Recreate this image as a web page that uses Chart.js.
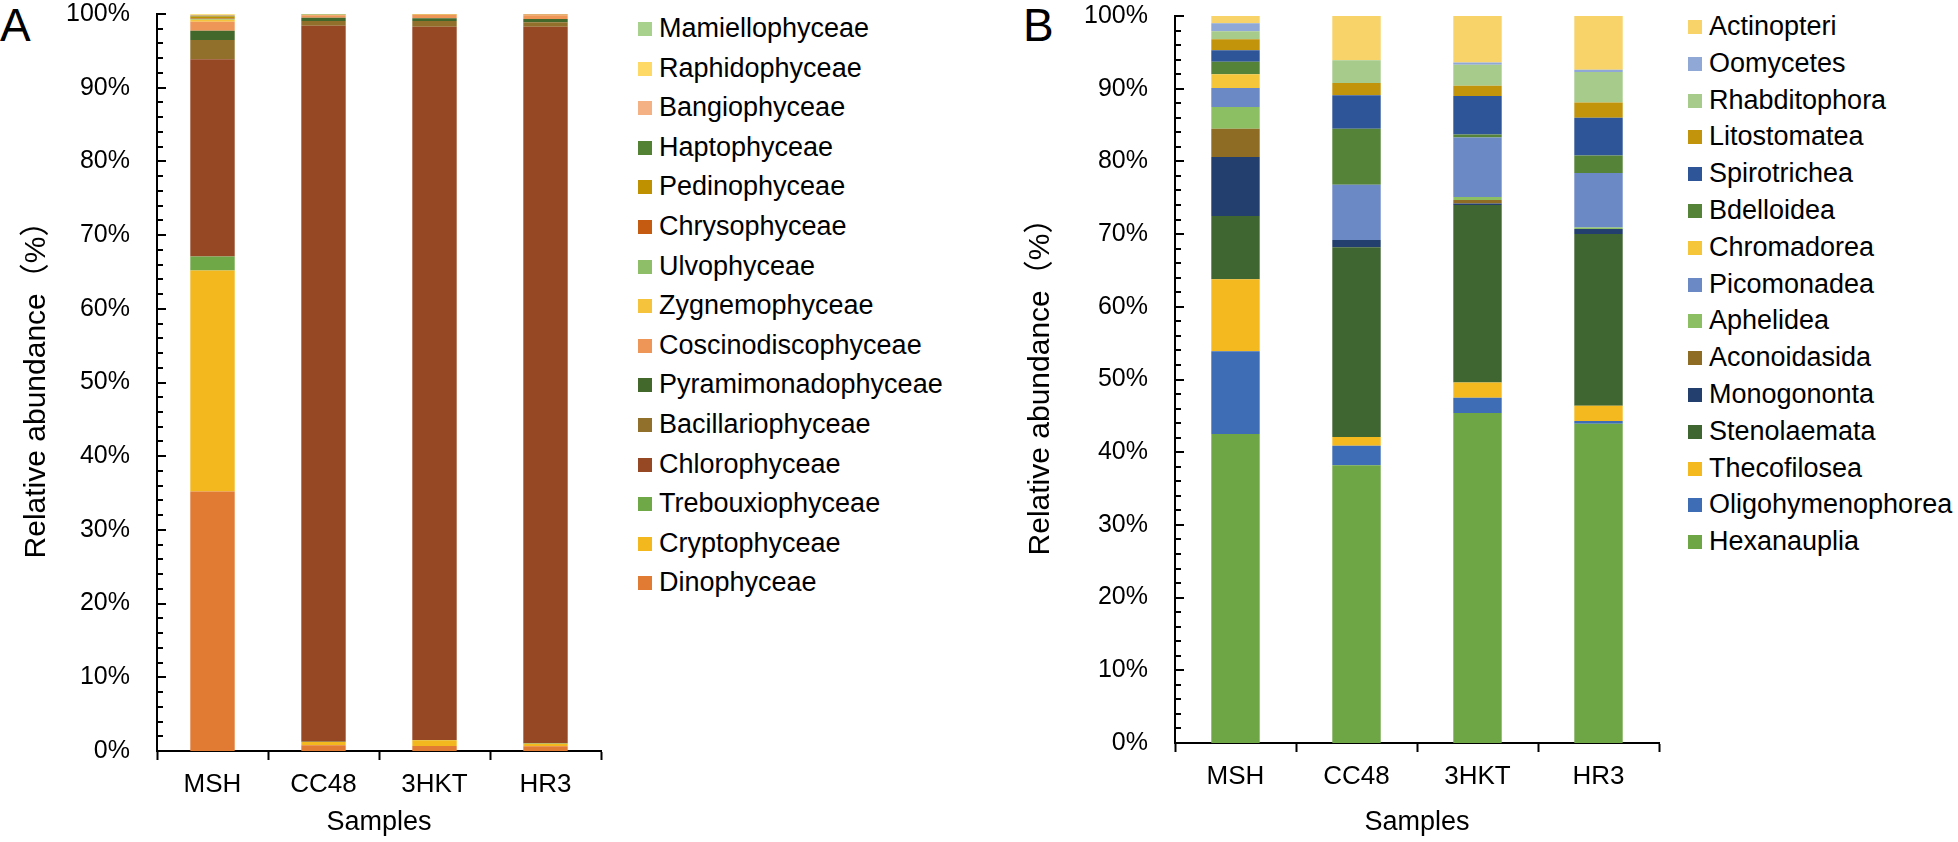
<!DOCTYPE html>
<html>
<head>
<meta charset="utf-8">
<script src="https://cdn.jsdelivr.net/npm/chart.js@4.4.1/dist/chart.umd.min.js"></script>
<style>
  body { margin: 0; background: #fff; width: 1958px; height: 842px; position: relative; overflow: hidden;
         font-family: "Liberation Sans", Arial, sans-serif; color: #000; }
  canvas { position: absolute; top: 0; }
  #chartA { left: 0; }
  #chartB { left: 980px; }
  .tag { position: absolute; top: 2px; font-size: 46px; line-height: 46px; }
  .legend { position: absolute; top: 0; font-size: 27px; }
  .legend .item { position: absolute; left: 0; height: 28px; line-height: 28px; white-space: nowrap; }
  .legend .sw { position: absolute; left: 0; top: 8px; width: 14px; height: 14px; }
  .legend .tx { position: absolute; top: 0; }
</style>
</head>
<body>
<div class="tag" style="left:0">A</div>
<div class="tag" style="left:1023px">B</div>
<canvas id="chartA" width="610" height="842"></canvas>
<canvas id="chartB" width="690" height="842"></canvas>
<div class="legend" id="legendA" style="left:638px"></div>
<div class="legend" id="legendB" style="left:1688px"></div>
<script>
// 樣本
const samples = ['MSH', 'CC48', '3HKT', 'HR3'];

// A: 藻類綱（由下往上堆疊）
const algaeClasses = ['Dinophyceae', 'Cryptophyceae', 'Trebouxiophyceae', 'Chlorophyceae', 'Bacillariophyceae',
  'Pyramimonadophyceae', 'Coscinodiscophyceae', 'Zygnemophyceae', 'Ulvophyceae', 'Chrysophyceae',
  'Pedinophyceae', 'Haptophyceae', 'Bangiophyceae', 'Raphidophyceae', 'Mamiellophyceae'];
const algaeColors = ['#e17a33', '#f3b81e', '#6fa846', '#964824', '#90702a',
  '#43682b', '#ee9558', '#f6c43c', '#8ebf68', '#c55a11',
  '#bf9000', '#548235', '#f4b183', '#ffd966', '#a9d18e'];
const algaeMSH  = [35.2, 30.0, 1.9, 26.75, 2.62, 1.26, 1.23, 0.25, 0.15, 0.1, 0.2, 0.1, 0.1, 0.1, 0.04];
const algaeCC48 = [0.77, 0.45, 0.05, 97.14, 0.63, 0.45, 0.35, 0.03, 0.02, 0.02, 0.02, 0.02, 0.02, 0.02, 0.01];
const algae3HKT = [0.68, 0.77, 0.05, 96.78, 0.77, 0.37, 0.45, 0.02, 0.02, 0.02, 0.02, 0.01, 0.02, 0.01, 0.01];
const algaeHR3  = [0.63, 0.37, 0.05, 97.23, 0.6, 0.45, 0.5, 0.03, 0.02, 0.02, 0.02, 0.02, 0.03, 0.02, 0.01];

// B: 動物/原生生物綱（由下往上堆疊）
const faunaClasses = ['Hexanauplia', 'Oligohymenophorea', 'Thecofilosea', 'Stenolaemata', 'Monogononta',
  'Aconoidasida', 'Aphelidea', 'Picomonadea', 'Chromadorea', 'Bdelloidea',
  'Spirotrichea', 'Litostomatea', 'Rhabditophora', 'Oomycetes', 'Actinopteri'];
const faunaColors = ['#6ea646', '#3e6db5', '#f4b91f', '#3f6630', '#223f6e',
  '#8f6c24', '#8cbf64', '#6a89c5', '#f6c63a', '#558337',
  '#2e5597', '#c2940c', '#a6cb8b', '#8fa8d6', '#f7d36a'];
const faunaMSH  = [42.5, 11.4, 9.9, 8.7, 8.1, 3.9, 3.0, 2.6, 1.9, 1.7, 1.6, 1.5, 1.1, 1.1, 1.0];
const faunaCC48 = [38.2, 2.7, 1.2, 26.1, 1.0, 0, 0, 7.6, 0, 7.7, 4.6, 1.7, 3.1, 0, 6.1];
const fauna3HKT = [45.4, 2.1, 2.1, 24.4, 0.2, 0.5, 0.4, 8.2, 0, 0.4, 5.3, 1.4, 2.9, 0.3, 6.4];
const faunaHR3  = [43.9, 0.4, 2.1, 23.6, 0.7, 0, 0.2, 7.5, 0, 2.4, 5.2, 2.1, 4.2, 0.3, 7.4];

Chart.defaults.font.family = "'Liberation Sans', Arial, 'Noto Sans CJK SC', sans-serif";
Chart.defaults.color = '#000';

// 內側刻度（主刻度 10%，次刻度 2%）
const innerTicks = {
  id: 'innerTicks',
  afterDraw(chart) {
    const ctx = chart.ctx, sc = chart.scales.y, x0 = chart.chartArea.left;
    ctx.save();
    ctx.strokeStyle = '#000';
    ctx.lineWidth = 2;
    for (let v = 0; v <= 100; v += 2) {
      const py = Math.round(sc.getPixelForValue(v));
      const len = v % 10 === 0 ? 9 : 6;
      ctx.beginPath();
      ctx.moveTo(x0, py);
      ctx.lineTo(x0 + len, py);
      ctx.stroke();
    }
    ctx.restore();
  }
};

function buildChart(id, classes, colors, rows, o) {
  const datasets = classes.map((name, i) => ({
    label: name,
    data: rows.map(r => r[i]),
    backgroundColor: colors[i],
    borderWidth: 0,
    barPercentage: 0.4,
    categoryPercentage: 1.0
  }));
  return new Chart(document.getElementById(id), {
    type: 'bar',
    data: { labels: samples, datasets },
    options: {
      responsive: false,
      animation: false,
      devicePixelRatio: 1,
      layout: { padding: { left: 0, right: o.padRight, top: o.padTop, bottom: 0 } },
      plugins: { legend: { display: false }, tooltip: { enabled: false } },
      scales: {
        x: {
          stacked: true,
          grid: { display: true, drawOnChartArea: false, drawTicks: true, tickLength: 9, tickWidth: 2, tickColor: '#000', offset: true },
          border: { display: true, color: '#000', width: 2 },
          ticks: { font: { size: 26 }, padding: 9 },
          title: { display: true, text: 'Samples', font: { size: 27 }, padding: { top: 0, bottom: 3 } },
          afterFit(s) { s.height = o.xHeight; }
        },
        y: {
          stacked: true,
          min: 0,
          max: 100,
          grid: { display: false, drawTicks: false },
          border: { display: true, color: '#000', width: 2 },
          ticks: { stepSize: 10, font: { size: 25 }, padding: 27, callback: v => v + '%' },
          title: { display: true, text: 'Relative abundance（%）', font: { size: 30 }, padding: { top: o.titlePad, bottom: 0 } },
          afterFit(s) {
            s.width = o.yWidth;
            s.paddingTop = 0;
            s.paddingBottom = 0;
          }
        }
      }
    },
    plugins: [innerTicks]
  });
}

function buildLegend(id, classes, colors, y0, step) {
  const box = document.getElementById(id);
  for (let k = classes.length - 1, n = 0; k >= 0; k--, n++) {
    const item = document.createElement('div');
    item.className = 'item';
    item.style.top = (y0 + n * step - 14) + 'px';
    item.innerHTML = '<span class="sw" style="background:' + colors[k] + '"></span><span class="tx" style="left:21px">' + classes[k] + '</span>';
    box.appendChild(item);
  }
}

buildChart('chartA', algaeClasses, algaeColors, [algaeMSH, algaeCC48, algae3HKT, algaeHR3],
  { padRight: 9, padTop: 14, xHeight: 91, yWidth: 157, titlePad: 19 });
buildChart('chartB', faunaClasses, faunaColors, [faunaMSH, faunaCC48, fauna3HKT, faunaHR3],
  { padRight: 11, padTop: 16, xHeight: 99, yWidth: 195, titlePad: 43 });

buildLegend('legendA', algaeClasses, algaeColors, 28, 39.6);
buildLegend('legendB', faunaClasses, faunaColors, 26, 36.8);
</script>
</body>
</html>
